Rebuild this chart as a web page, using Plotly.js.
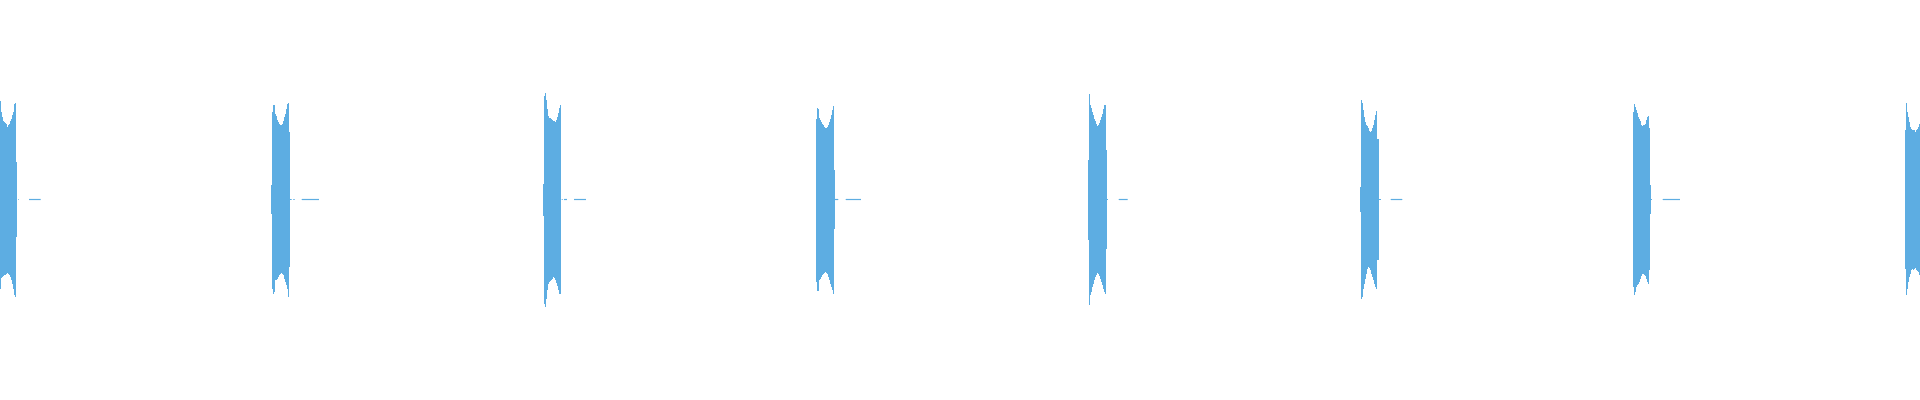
<!DOCTYPE html>
<html>
<head>
<meta charset="utf-8">
<script src="https://cdn.plot.ly/plotly-3.0.1.min.js"></script>
<style>
  html, body { margin: 0; padding: 0; background: #fff; }
  #plot { width: 1920px; height: 400px; }
</style>
</head>
<body>
<div id="plot"></div>
<script>
// waveform bursts
// amplitude in % of full scale, one entry per time step
let burstStart = [0, 271, 543, 816, 1088, 1360, 1633, 1905];

let burstTop = [
  [49.2, 43.8, 41.3, 39.2, 38.8, 38.3, 38.0, 36.3, 37.2, 38.0, 39.2, 40.5, 42.2, 43.8, 48.0, 48.5, 18.8],
  [7.2, 43.8, 47.2, 47.5, 43.0, 41.7, 40.0, 38.8, 38.0, 37.2, 37.2, 38.0, 39.3, 41.3, 43.0, 45.5, 47.7, 48.3, 33.8],
  [7.7, 51.7, 53.2, 49.7, 45.5, 41.8, 41.0, 40.8, 40.5, 40.0, 39.5, 39.2, 38.8, 39.7, 41.3, 43.3, 45.8, 47.2],
  [40.5, 45.8, 45.5, 40.8, 39.7, 38.8, 38.0, 37.2, 36.3, 35.8, 36.0, 36.3, 37.5, 38.8, 40.5, 42.5, 44.7, 46.8, 14.7],
  [19.7, 52.7, 47.2, 45.8, 43.8, 42.2, 40.5, 39.2, 38.0, 36.8, 37.2, 38.5, 39.7, 41.3, 43.0, 45.2, 47.2, 47.5, 24.7],
  [6.3, 49.7, 48.5, 44.7, 41.3, 38.8, 37.5, 36.8, 35.8, 34.2, 33.8, 34.2, 35.8, 37.2, 39.7, 42.5, 44.2, 30.5, 30.5],
  [43.8, 47.7, 46.3, 44.7, 43.5, 41.3, 40.5, 39.2, 37.5, 36.8, 37.2, 37.5, 38.0, 39.7, 41.3, 41.8, 35.8, 7.2],
  [34.7, 48.3, 43.8, 41.3, 38.8, 36.3, 35.5, 35.0, 35.0, 34.7, 33.8, 34.7, 35.5, 36.3, 37.7]
];

let burstBottom = [
  [-44.5, -39.4, -38.7, -38.4, -37.9, -37.5, -37.0, -36.5, -37.0, -37.9, -38.7, -40.4, -42.0, -44.5, -47.9, -48.7, -18.7],
  [-7.0, -44.5, -47.0, -46.2, -40.4, -40.0, -39.5, -38.7, -37.9, -37.0, -36.7, -37.0, -37.9, -39.5, -41.2, -42.9, -44.5, -48.7, -33.7],
  [-8.4, -52.0, -53.7, -49.5, -45.4, -42.4, -41.2, -40.9, -40.4, -39.5, -38.7, -39.0, -40.4, -41.7, -43.4, -45.4, -47.0, -47.4],
  [-41.2, -45.7, -45.7, -40.4, -39.5, -38.7, -37.9, -37.0, -36.5, -36.2, -36.5, -37.0, -38.7, -40.4, -42.0, -43.7, -45.4, -47.0, -14.5],
  [-20.4, -52.9, -47.9, -46.2, -43.7, -42.0, -40.4, -38.7, -37.5, -36.5, -37.0, -38.2, -39.5, -41.2, -42.9, -44.9, -46.2, -47.0, -24.5],
  [-6.2, -49.5, -48.7, -44.5, -42.0, -39.5, -37.0, -34.5, -33.7, -34.2, -35.4, -37.0, -38.7, -40.4, -42.0, -43.7, -44.9, -30.4, -30.4],
  [-43.7, -47.9, -46.2, -43.7, -42.9, -42.0, -41.2, -39.5, -38.2, -37.0, -37.0, -37.9, -38.2, -39.5, -41.2, -42.0, -35.4, -7.0],
  [-34.5, -47.9, -44.5, -41.2, -38.7, -37.0, -35.0, -34.5, -35.0, -34.5, -34.0, -35.0, -35.7, -36.2, -37.9]
];

// near-silent stretches after each burst
let quietStart = [18.3, 29, 290, 293.3, 301.7, 561.7, 564, 574, 835, 845.7, 1107, 1118.7, 1379, 1390.7, 1651, 1662.7];
let quietEnd   = [19, 40.7, 291.7, 294.7, 319, 562.7, 567, 586, 838.3, 861, 1108, 1127.7, 1381, 1402.3, 1652, 1680];

let waveColor = '#5dade2';

// one bar per time step, from trough to peak
let bx = [], by = [], bbase = [];
for (let b = 0; b < burstStart.length; b++) {
  for (let k = 0; k < burstTop[b].length; k++) {
    bx.push(burstStart[b] + k + 0.5);
    bbase.push(burstBottom[b][k]);
    by.push(burstTop[b][k] - burstBottom[b][k]);
  }
}

let qx = [], qy = [];
for (let i = 0; i < quietStart.length; i++) {
  qx.push(quietStart[i], quietEnd[i], null);
  qy.push(0, 0, null);
}

var wave = {
  x: bx,
  y: by,
  base: bbase,
  type: 'bar',
  width: 1.05,
  marker: { color: waveColor, line: { width: 0 } },
  hoverinfo: 'skip'
};

var quiet = {
  x: qx,
  y: qy,
  type: 'scatter',
  mode: 'lines',
  line: { color: waveColor, width: 1.2 },
  hoverinfo: 'skip'
};

Plotly.newPlot('plot', [wave, quiet], {
  width: 1920,
  height: 400,
  margin: { l: 0, r: 0, t: 0, b: 0, pad: 0 },
  showlegend: false,
  paper_bgcolor: '#ffffff',
  plot_bgcolor: '#ffffff',
  bargap: 0,
  xaxis: { range: [0, 1920], visible: false, fixedrange: true },
  yaxis: { range: [-100.25, 99.75], visible: false, fixedrange: true }
}, { displayModeBar: false, staticPlot: true });
</script>
</body>
</html>
